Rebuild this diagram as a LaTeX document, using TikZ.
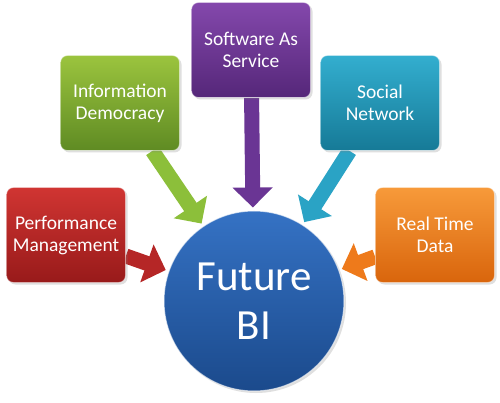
\documentclass[tikz,border=0pt]{standalone}
\usepackage{fontspec}
\setmainfont{Carlito}
\usetikzlibrary{arrows.meta,backgrounds,shadows}
\definecolor{redT}{HTML}{D03532}\definecolor{redB}{HTML}{981A1A}\definecolor{redA}{HTML}{B52626}
\definecolor{grnT}{HTML}{9BC43E}\definecolor{grnB}{HTML}{5F8B23}\definecolor{grnA}{HTML}{8CBF3A}
\definecolor{purT}{HTML}{8448AC}\definecolor{purB}{HTML}{552779}\definecolor{purA}{HTML}{6A3594}
\definecolor{tealT}{HTML}{33AECF}\definecolor{tealB}{HTML}{167A97}\definecolor{tealA}{HTML}{2AA3C5}
\definecolor{orT}{HTML}{F79A3A}\definecolor{orB}{HTML}{D9650C}\definecolor{orA}{HTML}{EE7A1B}
\definecolor{bluT}{HTML}{3572C4}\definecolor{bluB}{HTML}{1B4A8C}
\begin{document}
\begin{tikzpicture}[x=1pt,y=-1pt,
  box/.style={rounded corners=7pt, minimum width=119pt, minimum height=95pt,
    align=center, text=white, font=\fontsize{19.5}{22}\selectfont,
    draw=white, draw opacity=0.5, line width=0.8pt,
    drop shadow={opacity=0.25, shadow xshift=2pt, shadow yshift=-2pt}},
  hub/.style={circle, minimum size=180pt, inner sep=0pt, align=center,
    text=white, font=\fontsize{43}{49}\selectfont,
    top color=bluT, bottom color=bluB, draw=white, draw opacity=0.6, line width=1pt,
    drop shadow={opacity=0.25, shadow xshift=2pt, shadow yshift=-2pt}},
  arr/.style={line width=15pt, -{Triangle[width=39pt,length=20pt]}, shorten >=3pt}
]
\useasboundingbox (0,0) rectangle (500,403);
\node[hub] (bi) at (254,301) {Future\\BI};
\node[box, top color=redT, bottom color=redB] (pm) at (66,235) {Performance\\Management};
\node[box, top color=grnT, bottom color=grnB] (id) at (120,103) {Information\\Democracy};
\node[box, top color=purT, bottom color=purB] (ss) at (251,50) {Software As\\Service};
\node[box, top color=tealT, bottom color=tealB] (sn) at (380,103) {Social\\Network};
\node[box, top color=orT, bottom color=orB] (rt) at (435,235) {Real Time\\Data};
\begin{scope}[on background layer]
\fill[white] (0,0) rectangle (500,403);
\draw[arr, redA] (pm) -- (bi);
\draw[arr, grnA] (id) -- (bi);
\draw[arr, purA] (ss) -- (bi);
\draw[arr, tealA] (sn) -- (bi);
\draw[arr, orA] (rt) -- (bi);
\end{scope}
\end{tikzpicture}
\end{document}
